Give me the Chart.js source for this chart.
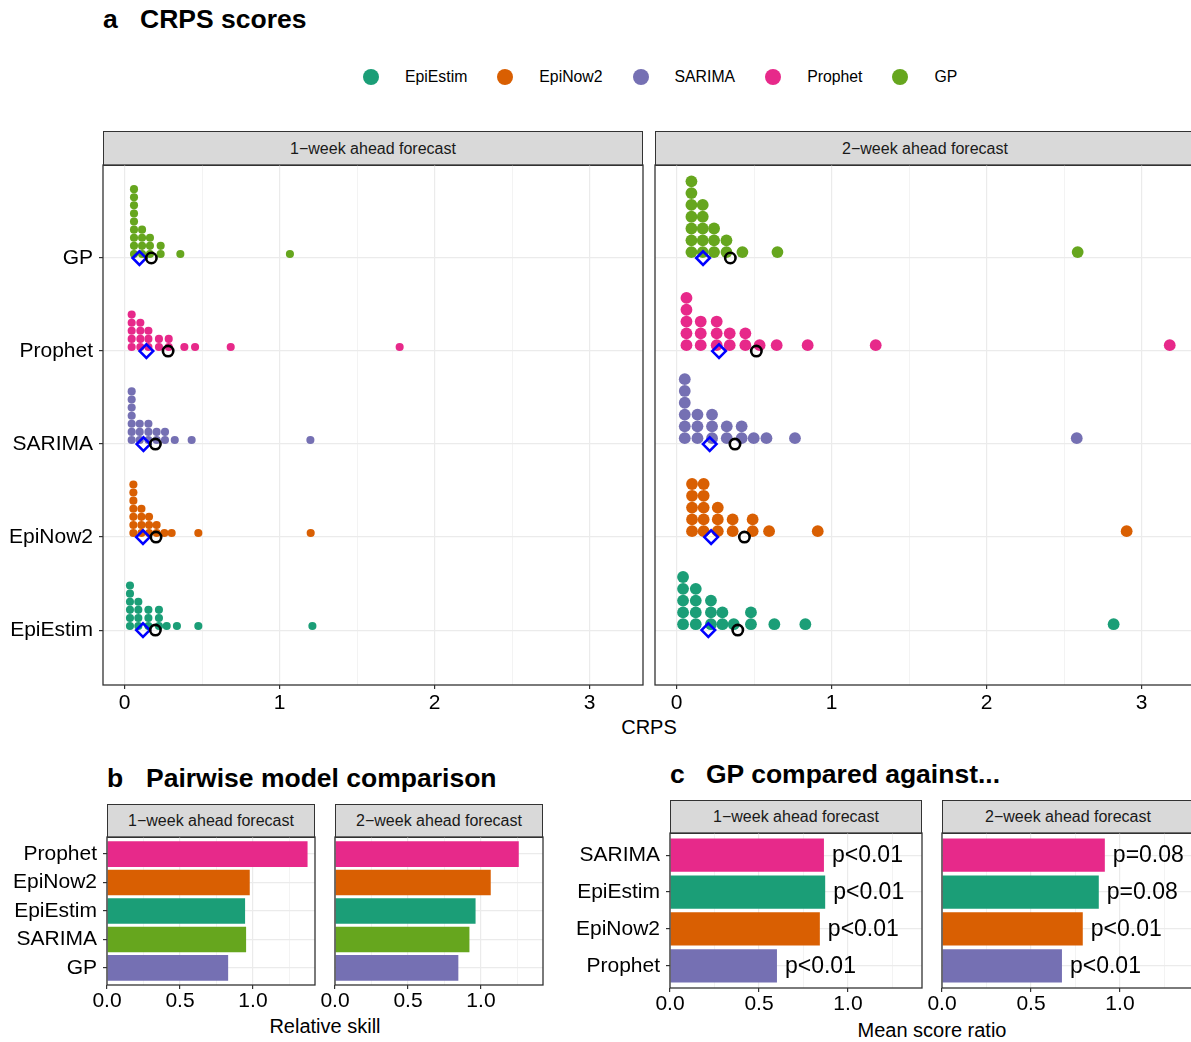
<!DOCTYPE html>
<html>
<head>
<meta charset="utf-8">
<script src="https://cdn.jsdelivr.net/npm/chart.js@4.4.0/dist/chart.umd.min.js"></script>
<style>
  body { margin: 0; width: 1191px; height: 1042px; position: relative; overflow: hidden; background: #fff;
         font-family: "Liberation Sans", Arial, Helvetica, sans-serif; color: #000; }
  .title { position: absolute; font-weight: bold; font-size: 26.5px; line-height: 26px; white-space: nowrap; }
  .strip { position: absolute; box-sizing: border-box; border: 1px solid #333; background: #D9D9D9; color: #1A1A1A;
           font-size: 16px; display: flex; align-items: center; justify-content: center; white-space: nowrap; }
  .axtitle { position: absolute; font-size: 20px; line-height: 20px; transform: translateX(-50%); white-space: nowrap; }
  canvas { position: absolute; }
  #legend { position: absolute; left: 363px; top: 69px; height: 16px; display: flex; align-items: center; font-size: 15.8px; }
  #legend .dot { width: 16px; height: 16px; border-radius: 50%; margin-right: 26px; }
  #legend .lab { margin-right: 30px; }
</style>
</head>
<body>

<div class="title" style="left:103px; top:6px">a</div>
<div class="title" style="left:140px; top:6px">CRPS scores</div>
<div id="legend"></div>

<div class="strip" style="left:103px; top:131px; width:540px; height:35px">1−week ahead forecast</div>
<div class="strip" style="left:655px; top:131px; width:540px; height:35px">2−week ahead forecast</div>
<div class="axtitle" style="left:649px; top:717px">CRPS</div>

<div class="title" style="left:107px; top:765px">b</div>
<div class="title" style="left:146px; top:765px">Pairwise model comparison</div>
<div class="strip" style="left:107px; top:804px; width:208px; height:34px">1−week ahead forecast</div>
<div class="strip" style="left:335px; top:804px; width:208px; height:34px">2−week ahead forecast</div>
<div class="axtitle" style="left:325px; top:1016px">Relative skill</div>

<div class="title" style="left:670px; top:761px">c</div>
<div class="title" style="left:706px; top:761px">GP compared against...</div>
<div class="strip" style="left:670px; top:800px; width:252px; height:34px">1−week ahead forecast</div>
<div class="strip" style="left:942px; top:800px; width:252px; height:34px">2−week ahead forecast</div>
<div class="axtitle" style="left:932px; top:1020px">Mean score ratio</div>

<script>
/* ---------- data ---------- */

/* panel a: models from bottom to top, Dark2 colours */
const models = ['EpiEstim', 'EpiNow2', 'SARIMA', 'Prophet', 'GP'];
const modelColors = ['#1B9E77', '#D95F02', '#7570B3', '#E7298A', '#66A61E'];

/* 1-week ahead: dotplot bins (CRPS) and how many dots are stacked in each */
const epiestimBins1 = [0.034, 0.088, 0.153, 0.221, 0.271, 0.337, 0.475, 1.211];
const epiestimCounts1 = [6, 4, 3, 3, 1, 1, 1, 1];
const epinow2Bins1 = [0.056, 0.108, 0.157, 0.206, 0.256, 0.303, 0.475, 1.200];
const epinow2Counts1 = [7, 4, 3, 2, 1, 1, 1, 1];
const sarimaBins1 = [0.045, 0.097, 0.153, 0.206, 0.260, 0.323, 0.432, 1.198];
const sarimaCounts1 = [7, 3, 3, 2, 2, 1, 1, 1];
const prophetBins1 = [0.045, 0.101, 0.153, 0.221, 0.284, 0.385, 0.454, 0.684, 1.774];
const prophetCounts1 = [5, 4, 3, 2, 2, 1, 1, 1, 1];
const gpBins1 = [0.060, 0.112, 0.163, 0.232, 0.359, 1.066];
const gpCounts1 = [9, 4, 3, 2, 1, 1];

/* 2-week ahead */
const epiestimBins2 = [0.041, 0.123, 0.221, 0.295, 0.368, 0.479, 0.630, 0.830, 2.819];
const epiestimCounts2 = [5, 4, 3, 2, 1, 2, 1, 1, 1];
const epinow2Bins2 = [0.099, 0.174, 0.265, 0.361, 0.490, 0.596, 0.910, 2.903];
const epinow2Counts2 = [5, 5, 3, 2, 2, 1, 1, 1];
const sarimaBins2 = [0.052, 0.134, 0.228, 0.323, 0.419, 0.497, 0.579, 0.763, 2.581];
const sarimaCounts2 = [6, 3, 3, 2, 2, 1, 1, 1, 1];
const prophetBins2 = [0.063, 0.155, 0.258, 0.342, 0.443, 0.535, 0.645, 0.845, 1.284, 3.181];
const prophetCounts2 = [5, 3, 3, 2, 2, 1, 1, 1, 1, 1];
const gpBins2 = [0.095, 0.168, 0.241, 0.321, 0.424, 0.650, 2.587];
const gpCounts2 = [7, 5, 3, 2, 1, 1, 1];

/* median (blue diamond) and mean (black circle), same order as models */
const median1 = [0.118, 0.118, 0.121, 0.140, 0.095];
const mean1 = [0.198, 0.202, 0.198, 0.280, 0.172];
const median2 = [0.204, 0.222, 0.213, 0.273, 0.170];
const mean2 = [0.394, 0.437, 0.376, 0.514, 0.346];

const crpsTicks = [0, 0.5, 1, 1.5, 2, 2.5, 3];

/* panel b: relative skill, top to bottom */
const skillModels = ['Prophet', 'EpiNow2', 'EpiEstim', 'SARIMA', 'GP'];
const skillColors = ['#E7298A', '#D95F02', '#1B9E77', '#66A61E', '#7570B3'];
const skill1 = [1.374, 0.978, 0.946, 0.953, 0.830];
const skill2 = [1.259, 1.067, 0.963, 0.921, 0.845];

/* panel c: GP mean score ratio against each model, top to bottom */
const ratioModels = ['SARIMA', 'EpiEstim', 'EpiNow2', 'Prophet'];
const ratioColors = ['#E7298A', '#1B9E77', '#D95F02', '#7570B3'];
const ratio1 = [0.865, 0.872, 0.842, 0.601];
const ratio2 = [0.915, 0.881, 0.791, 0.674];
const pvals1 = ['p<0.01', 'p<0.01', 'p<0.01', 'p<0.01'];
const pvals2 = ['p=0.08', 'p=0.08', 'p<0.01', 'p<0.01'];

const ratioTicks = [0, 0.25, 0.5, 0.75, 1, 1.25];

/* ---------- setup ---------- */
const FONT = '"Liberation Sans", Arial, Helvetica, sans-serif';
Chart.defaults.font.family = FONT;
Chart.defaults.color = '#000';
Chart.defaults.animation = false;
Chart.defaults.plugins.legend.display = false;
Chart.defaults.plugins.tooltip.enabled = false;

/* legend for panel a */
const legend = document.getElementById('legend');
models.forEach((m, i) => {
    const dot = document.createElement('span');
    dot.className = 'dot';
    dot.style.background = modelColors[i];
    const lab = document.createElement('span');
    lab.className = 'lab';
    lab.textContent = m;
    legend.appendChild(dot);
    legend.appendChild(lab);
});

/* dark frame round each facet */
const panelBorder = {
    id: 'panelBorder',
    afterDraw(chart) {
        const a = chart.chartArea, ctx = chart.ctx;
        ctx.save();
        ctx.strokeStyle = '#333333';
        ctx.lineWidth = 1.3;
        ctx.strokeRect(a.left, a.top, a.right - a.left, a.bottom - a.top);
        ctx.restore();
    }
};

const PAD_T = 20, PAD_R = 12;
/* canvas so that the plot area lands on box */
function makeCanvas(box, yw, xh) {
    const c = document.createElement('canvas');
    c.width = yw + box.w + PAD_R;
    c.height = PAD_T + box.h + xh;
    c.style.left = (box.l - yw) + 'px';
    c.style.top = (box.t - PAD_T) + 'px';
    document.body.appendChild(c);
    return c;
}

function xAxis(min, max, ticks, isMajor, fmt, h, pad) {
    return {
        type: 'linear', min: min, max: max, bounds: 'data', offset: false,
        afterBuildTicks: s => { s.ticks = ticks.map(v => ({ value: v })); },
        afterFit: s => { s.height = h; },
        ticks: { autoSkip: false, maxRotation: 0, minRotation: 0, padding: pad, color: '#000', font: { size: 21 },
                 callback: v => isMajor(v) ? fmt(v) : '' },
        grid: {
            offset: false,
            color: '#EBEBEB',
            lineWidth: c => (c.tick && isMajor(c.tick.value)) ? 1.2 : 0.6,
            tickLength: 4,
            tickWidth: 1.2,
            tickColor: c => (c.tick && isMajor(c.tick.value)) ? '#333333' : 'rgba(0,0,0,0)'
        },
        border: { display: false }
    };
}

function catAxis(min, max, names, w, showLabels, reverse) {
    return {
        type: 'linear', min: min, max: max, reverse: reverse, bounds: 'data', offset: false,
        afterBuildTicks: s => { s.ticks = names.map((n, i) => ({ value: i + 1 })); },
        afterFit: s => { s.width = w; },
        ticks: { display: showLabels, autoSkip: false, padding: 6, color: '#000', font: { size: 21 },
                 callback: v => names[Math.round(v) - 1] },
        grid: { offset: false, color: '#EBEBEB', lineWidth: 1.2, drawTicks: showLabels, tickLength: 4, tickWidth: 1.2, tickColor: '#333333' },
        border: { display: false }
    };
}

const isInt = v => Math.abs(v - Math.round(v)) < 1e-9;
const isHalf = v => Math.abs(v * 2 - Math.round(v * 2)) < 1e-9;

/* ---------- panel a: dotplots ---------- */
function dotFacet(box, yw, binsList, countsList, med, mean, dotR, showY) {
    const cv = makeCanvas(box, yw, 50);
    const sets = [
        { data: mean.map((v, i) => ({ x: v, y: i + 1 })), pointStyle: 'circle', pointRadius: 5.2,
          pointBorderColor: '#000', pointBorderWidth: 2.6, pointBackgroundColor: 'rgba(0,0,0,0)', order: 0 },
        { data: med.map((v, i) => ({ x: v, y: i + 1 })), pointStyle: 'rectRot', pointRadius: 6.8,
          pointBorderColor: '#0000FF', pointBorderWidth: 2.6, pointBackgroundColor: 'rgba(0,0,0,0)', order: 0 }
    ];
    models.forEach((m, i) => sets.push({
        data: [], pointRadius: dotR, pointBorderWidth: 0,
        pointBackgroundColor: modelColors[i], pointBorderColor: modelColors[i], order: 1
    }));
    const chart = new Chart(cv, {
        type: 'scatter',
        data: { datasets: sets },
        options: {
            responsive: false, devicePixelRatio: 1,
            layout: { padding: { top: PAD_T, right: PAD_R } },
            scales: {
                x: xAxis(-0.14, 3.344, crpsTicks, isInt, v => String(v), 50, 2),
                y: catAxis(0.41, 6.0, models, yw, showY, false)
            }
        },
        plugins: [panelBorder]
    });
    // stack the dots upward from each model's line, one dot diameter apart
    const ys = chart.scales.y;
    const unit = Math.abs(ys.getPixelForValue(1) - ys.getPixelForValue(2));
    const step = 2 * dotR / unit;
    models.forEach((m, i) => {
        const pts = [];
        binsList[i].forEach((b, j) => {
            for (let k = 0; k < countsList[i][j]; k++) pts.push({ x: b, y: i + 1 + (k + 0.5) * step });
        });
        chart.data.datasets[i + 2].data = pts;
    });
    chart.update('none');
}

dotFacet({ l: 103, t: 165, w: 540, h: 520 }, 103,
    [epiestimBins1, epinow2Bins1, sarimaBins1, prophetBins1, gpBins1],
    [epiestimCounts1, epinow2Counts1, sarimaCounts1, prophetCounts1, gpCounts1],
    median1, mean1, 4.05, true);
dotFacet({ l: 655, t: 165, w: 540, h: 520 }, 24,
    [epiestimBins2, epinow2Bins2, sarimaBins2, prophetBins2, gpBins2],
    [epiestimCounts2, epinow2Counts2, sarimaCounts2, prophetCounts2, gpCounts2],
    median2, mean2, 5.9, false);

/* ---------- panels b and c: horizontal bars ---------- */
function pLabels(texts) {
    return {
        id: 'pLabels',
        afterDatasetsDraw(chart) {
            const ctx = chart.ctx, xs = chart.scales.x, ys = chart.scales.y;
            ctx.save();
            ctx.font = '23px ' + FONT;
            ctx.fillStyle = '#000';
            ctx.textAlign = 'left';
            ctx.textBaseline = 'middle';
            chart.data.datasets[0].data.forEach((d, i) => {
                ctx.fillText(texts[i], xs.getPixelForValue(d.x) + 8, ys.getPixelForValue(d.y) + 1);
            });
            ctx.restore();
        }
    };
}

function barFacet(box, yw, names, values, colors, xmax, showY, texts, tickPad) {
    const cv = makeCanvas(box, yw, 45);
    const plugins = [panelBorder];
    if (texts) plugins.push(pLabels(texts));
    new Chart(cv, {
        type: 'bar',
        data: {
            datasets: [{
                data: values.map((v, i) => ({ x: v, y: i + 1 })),
                backgroundColor: colors, borderWidth: 0,
                barPercentage: 0.9, categoryPercentage: 1.0
            }]
        },
        options: {
            indexAxis: 'y',
            responsive: false, devicePixelRatio: 1,
            layout: { padding: { top: PAD_T, right: PAD_R } },
            scales: {
                x: xAxis(0, xmax, ratioTicks, isHalf, v => v.toFixed(1), 45, tickPad),
                y: catAxis(0.4, names.length + 0.6, names, yw, showY, true)
            }
        },
        plugins: plugins
    });
}

barFacet({ l: 107, t: 837, w: 208, h: 148 }, 107, skillModels, skill1, skillColors, 1.425, true, null, 0);
barFacet({ l: 335, t: 837, w: 208, h: 148 }, 24, skillModels, skill2, skillColors, 1.425, false, null, 0);
barFacet({ l: 670, t: 833, w: 252, h: 155 }, 120, ratioModels, ratio1, ratioColors, 1.416, true, pvals1, 0);
barFacet({ l: 942, t: 833, w: 252, h: 155 }, 24, ratioModels, ratio2, ratioColors, 1.416, false, pvals2, 0);
</script>
</body>
</html>
